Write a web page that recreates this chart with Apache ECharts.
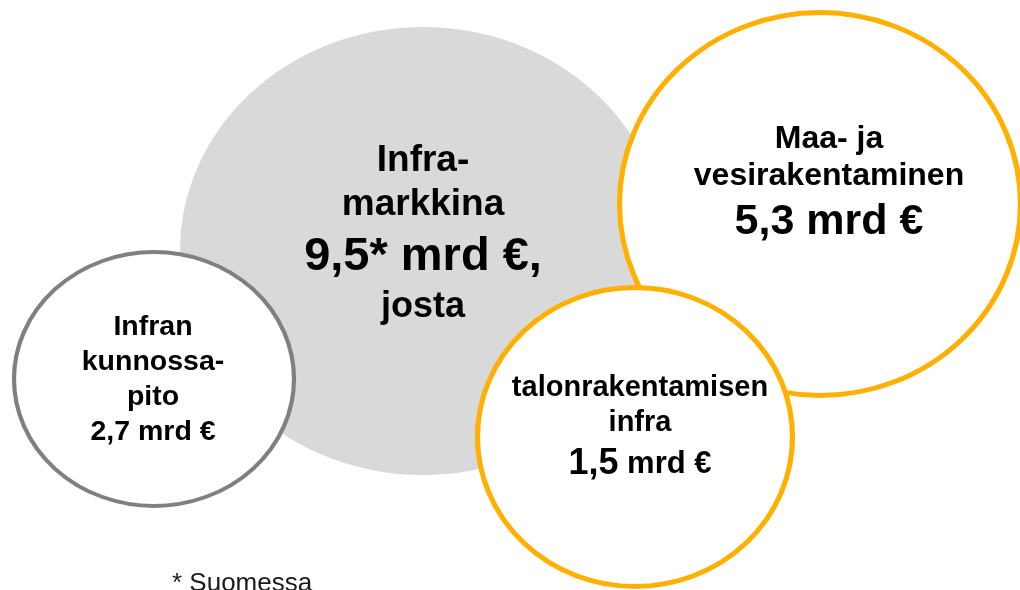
<!DOCTYPE html>
<html>
<head>
<meta charset="utf-8">
<script src="https://cdn.jsdelivr.net/npm/echarts@6/dist/echarts.min.js"></script>
<style>
  html, body { margin: 0; padding: 0; background: #fff; }
  #chart { width: 1020px; height: 590px; }
</style>
</head>
<body>
<div id="chart"></div>
<script>
"use strict";

// data
var categories = ['Infra-markkina', 'Maa- ja vesirakentaminen', 'talonrakentamisen infra', 'Infran kunnossapito'];
var values = [9.5, 5.3, 1.5, 2.7];
var centreX = [423, 820, 635, 154];   // diagram units, same scale as the page
var centreY = [251, 204, 437, 379];
var nameLines = [['Infra-', 'markkina'], ['Maa- ja', 'vesirakentaminen'], ['talonrakentamisen', 'infra'], ['Infran', 'kunnossa-', 'pito']];
var unit = 'mrd €';
var footnote = '* Suomessa';

// layout / style
var FONT = '"Liberation Sans", Arial, Helvetica, sans-serif';
var ORANGE = '#FFB000';
var GREY = '#808080';
var bubbleSize = [[486, 448], [401, 383], [315, 299], [280, 254]];

/**
 * number with finnish decimal comma
 */
function fi(v) {
  return v.toFixed(1).replace('.', ',');
}

function lines(i, tag) {
  return nameLines[i].map(function (l) { return '{' + tag + '|' + l + '}'; }).join('\n');
}

var labels = [
  {
    text: lines(0, 'n') + '\n{v|' + fi(values[0]) + '* ' + unit + ',}\n{j|josta}',
    offset: [0, -18],
    rich: {
      n: { fontSize: 37, lineHeight: 44 },
      v: { fontSize: 47, lineHeight: 61 },
      j: { fontSize: 36, lineHeight: 39 }
    }
  },
  {
    text: lines(1, 'n') + '\n{v|' + fi(values[1]) + ' ' + unit + '}',
    offset: [9, -19],
    rich: {
      n: { fontSize: 32, lineHeight: 37 },
      v: { fontSize: 43, lineHeight: 55 }
    }
  },
  {
    text: lines(2, 'n') + '\n{v|' + fi(values[2]) + '}{u| ' + unit + '}',
    offset: [5, -8],
    rich: {
      n: { fontSize: 29, lineHeight: 35 },
      v: { fontSize: 36, lineHeight: 47 },
      u: { fontSize: 31, lineHeight: 47 }
    }
  },
  {
    text: lines(3, 'n') + '\n{n|' + fi(values[3]) + ' ' + unit + '}',
    offset: [-1, 1],
    rich: {
      n: { fontSize: 28.5, lineHeight: 35 }
    }
  }
];

var itemStyles = [
  { color: '#D9D9D9', borderWidth: 0 },
  { color: '#FFFFFF', borderColor: ORANGE, borderWidth: 5 },
  { color: '#FFFFFF', borderColor: ORANGE, borderWidth: 5 },
  { color: '#FFFFFF', borderColor: GREY, borderWidth: 4 }
];

// draw order: big market, maintenance, land & water, building infra
var order = [0, 3, 1, 2];

var data = order.map(function (i) {
  var lb = labels[i];
  Object.keys(lb.rich).forEach(function (k) {
    lb.rich[k].fontWeight = 'bold';
    lb.rich[k].fontFamily = FONT;
    lb.rich[k].color = '#000';
    lb.rich[k].align = 'center';
  });
  return {
    name: categories[i],
    value: [centreX[i], centreY[i], values[i]],
    symbolSize: bubbleSize[i],
    itemStyle: Object.assign({ opacity: 1 }, itemStyles[i]),
    label: {
      show: true,
      position: 'inside',
      offset: lb.offset,
      align: 'center',
      formatter: lb.text,
      rich: lb.rich
    }
  };
});

var chart = echarts.init(document.getElementById('chart'));
chart.setOption({
  animation: false,
  backgroundColor: '#fff',
  title: {
    text: footnote,
    left: 172,
    top: 571,
    padding: 0,
    textStyle: { fontSize: 26, fontWeight: 'normal', color: '#1a1a1a', fontFamily: FONT }
  },
  grid: { left: 0, right: 0, top: 0, bottom: 0 },
  xAxis: { type: 'value', min: 0, max: 1020, show: false },
  yAxis: { type: 'value', min: 0, max: 590, inverse: true, show: false },
  series: [{
    type: 'scatter',
    symbol: 'circle',
    silent: true,
    clip: false,
    data: data
  }]
});
</script>
</body>
</html>
